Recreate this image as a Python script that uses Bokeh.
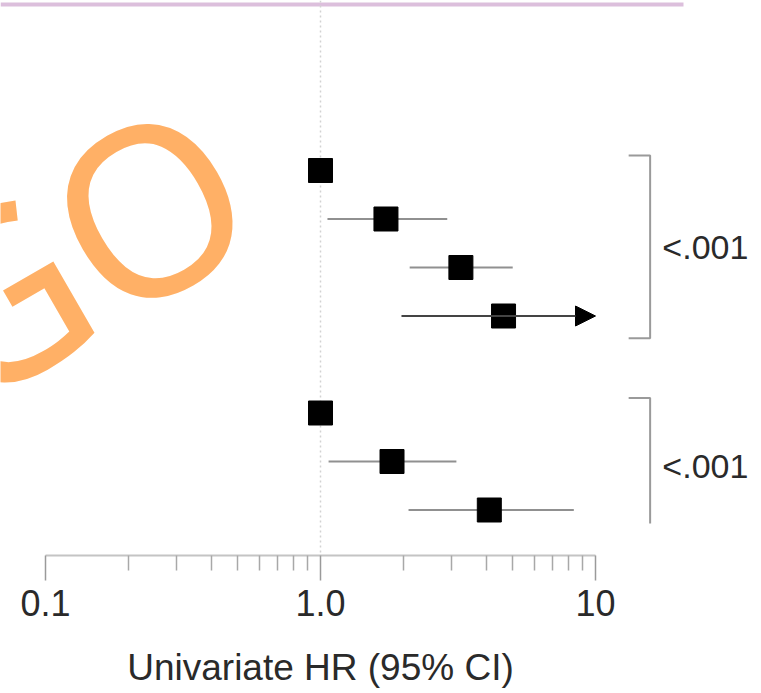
import math
from bokeh.plotting import figure
from bokeh.models import (Range1d, FixedTicker, Arrow, NormalHead, Label,
                          BoxAnnotation, ColumnDataSource, LogAxis, LogScale)
from bokeh.core.properties import value
from bokeh.embed import file_html
from bokeh.resources import INLINE

# ---- data ----
rows = [0, 1, 2, 3, 5, 6, 7]                      # row index (top to bottom), row 4 is a gap
hr = [1.0, 1.73, 3.24, 4.63, 1.0, 1.82, 4.11]
ci_lo = [None, 1.06, 2.11, 1.97, None, 1.07, 2.09]
ci_hi = [None, 2.89, 5.00, 10.0, None, 3.12, 8.34]
ci_truncated = [False, False, False, True, False, False, False]

group_first = [0, 5]
group_last = [3, 7]
group_closed = [True, False]
p_values = ["<.001", "<.001"]

major_ticks = [0.1, 1.0, 10.0]
major_labels = ["0.1", "1.0", "10"]
minor_ticks = [0.2, 0.3, 0.4, 0.5, 0.6, 0.7, 0.8, 0.9,
               2, 3, 4, 5, 6, 7, 8, 9]
x_title = "Univariate HR (95% CI)"
ref_hr = 1.0

# ---- layout constants ----
W, H = 761, 693
AXIS_PX = 555                          # pixel row of the x axis line
TITLE_PX = 667                         # pixel row of the axis title centre
X0_PX, DECADE_PX = 320.0, 275.0        # pixel of HR=1 and pixels per decade
ROW0_PX, ROW_PX = 170.0, 48.5          # pixel of row 0 and row spacing

x_start = 10 ** (-X0_PX / DECADE_PX)
x_end = 10 ** ((W - X0_PX) / DECADE_PX)
y_top = -ROW0_PX / ROW_PX
y_bottom = (H - ROW0_PX) / ROW_PX
axis_row = (AXIS_PX - ROW0_PX) / ROW_PX

BRACKET_X = 15.8
BRACKET_TICK_X = 13.2
PTEXT_X = 17.5
PAD_TOP, PAD_BOTTOM = 0.31, 0.46

FONT = "Liberation Sans"
TEXT_COLOR = "#2a2a2a"

p = figure(width=W, height=H, x_axis_type=None, x_axis_location=None,
           x_range=Range1d(x_start, x_end), y_range=Range1d(y_bottom, y_top),
           output_backend="svg", toolbar_location=None,
           min_border_left=0, min_border_right=0, min_border_top=0,
           min_border_bottom=0, y_axis_location=None,
           outline_line_color=None, background_fill_color="white")
p.grid.visible = False
p.x_scale = LogScale()

# top rule
p.add_layout(BoxAnnotation(left=0, right=683, top=H - 2, bottom=H - 6,
                           left_units="screen", right_units="screen",
                           top_units="screen", bottom_units="screen",
                           fill_color="#dcbfdc", fill_alpha=1.0, line_alpha=0,
                           level="underlay"))

# reference line at HR = 1 (from the top down to the axis)
p.segment(x0=[ref_hr], y0=[y_top], x1=[ref_hr], y1=[axis_row],
          line_color="#d2d2d2", line_width=1.5, line_dash="2 3")

# confidence intervals
seg = {"x0": [], "x1": [], "y": []}
for r, lo, hi, tr in zip(rows, ci_lo, ci_hi, ci_truncated):
    if lo is None or tr:
        continue
    seg["x0"].append(lo); seg["x1"].append(hi); seg["y"].append(r)
p.segment(x0="x0", y0="y", x1="x1", y1="y", source=ColumnDataSource(seg),
          line_color="#909090", line_width=2)

for r, lo, hi, tr in zip(rows, ci_lo, ci_hi, ci_truncated):
    if tr:
        p.add_layout(Arrow(end=NormalHead(size=20, fill_color="black", line_color="black"),
                           x_start=lo, y_start=r, x_end=hi, y_end=r,
                           line_color="#444444", line_width=2))

# point estimates
p.scatter(x=hr, y=rows, marker="square", size=24, fill_color="black",
          line_color="black")

# group brackets with p-values
for first, last, closed, pv in zip(group_first, group_last, group_closed, p_values):
    top = first - PAD_TOP
    bot = last + (PAD_BOTTOM if closed else 0.28)
    xs = [BRACKET_TICK_X, BRACKET_X, BRACKET_X]
    ys = [top, top, bot]
    if closed:
        xs.append(BRACKET_TICK_X); ys.append(bot)
    p.line(xs, ys, line_color="#9a9a9a", line_width=2)
    p.text(x=[PTEXT_X], y=[(first + last) / 2], text=[pv], text_font=value(FONT),
           text_font_size="34px", text_color=TEXT_COLOR, text_align="left",
           text_baseline="middle", y_offset=4)

# x axis, fixed at the axis row inside the frame
ax = LogAxis(fixed_location=axis_row,
             ticker=FixedTicker(ticks=major_ticks, minor_ticks=minor_ticks),
             bounds=(major_ticks[0], major_ticks[-1]),
             major_label_overrides={t: l for t, l in zip(major_ticks, major_labels)},
             axis_line_color="#c4c4c4", axis_line_width=2,
             major_tick_in=0, major_tick_out=25, minor_tick_in=0, minor_tick_out=15,
             major_tick_line_color="#9a9a9a", major_tick_line_width=1.5,
             minor_tick_line_color="#a8a8a8", minor_tick_line_width=1.5,
             major_label_text_font=FONT, major_label_text_font_size="36px",
             major_label_text_color=TEXT_COLOR, major_label_standoff=9)
p.add_layout(ax, "below")

# axis title, centred under the geometric middle of the axis (HR = 1)
p.add_layout(Label(x=math.sqrt(major_ticks[0] * major_ticks[-1]), y=H - TITLE_PX,
                   x_units="data", y_units="screen", text=x_title,
                   text_font=FONT, text_font_size="37px", text_color=TEXT_COLOR,
                   text_align="center", text_baseline="middle"))

# orange watermark
p.add_layout(Label(x=72, y=H - 247, x_units="screen", y_units="screen",
                   text="GO", text_font="Noto Sans", text_font_size="235px",
                   text_color="#ffb066", text_align="center",
                   text_baseline="middle", angle=math.radians(30)))

open("out.html", "w").write(file_html(p, INLINE))
